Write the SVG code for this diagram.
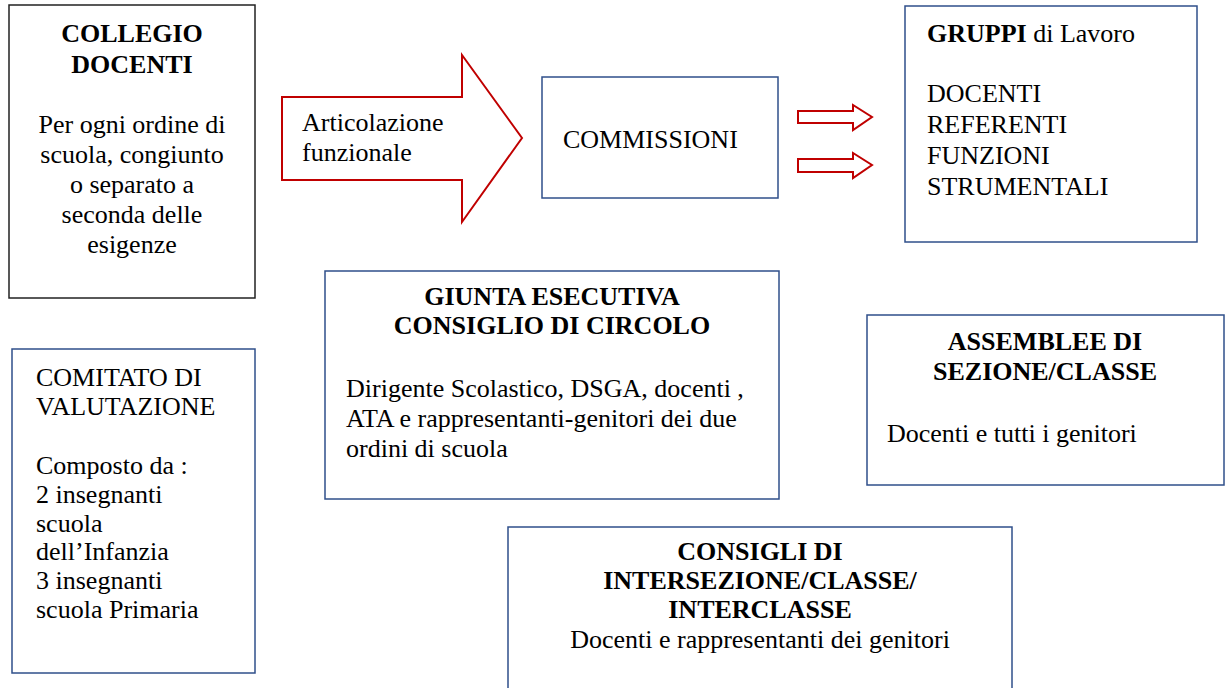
<svg xmlns="http://www.w3.org/2000/svg" width="1232" height="688" viewBox="0 0 1232 688">
<style>
  .box { fill: #ffffff; stroke: #2f4f8a; stroke-width: 1.5; }
  .boxk { fill: #ffffff; stroke: #222222; stroke-width: 1.5; }
  .arrow { fill: #ffffff; stroke: #c00000; stroke-width: 2; stroke-linejoin: miter; }
  .b { font-weight: bold; }
  .c { text-anchor: middle; }
</style>
<rect width="1232" height="688" fill="#ffffff"/>
<g font-family="'Liberation Serif', 'Times New Roman', serif" font-size="26" fill="#000000">
<g id="connectors">
  <polygon class="arrow" points="282,97 462,97 462,55 522,138 462,222 462,180 282,180"/>
  <polygon class="arrow" points="798,111 853,111 853,105 872,117 853,130 853,123 798,123"/>
  <polygon class="arrow" points="798,159 853,159 853,153 872,165 853,178 853,172 798,172"/>
  <text x="302" y="131">Articolazione</text>
  <text x="302" y="161">funzionale</text>
</g>
<g id="collegio">
  <rect class="boxk" x="9" y="5" width="246" height="293"/>
  <text class="b c" x="132" y="42">COLLEGIO</text>
  <text class="b c" x="132" y="73">DOCENTI</text>
  <text class="c" x="132" y="133">Per ogni ordine di</text>
  <text class="c" x="132" y="163">scuola, congiunto</text>
  <text class="c" x="132" y="193">o separato a</text>
  <text class="c" x="132" y="223">seconda delle</text>
  <text class="c" x="132" y="253">esigenze</text>
</g>
<g id="commissioni">
  <rect class="box" x="542" y="77" width="236" height="121"/>
  <text x="563" y="148">COMMISSIONI</text>
</g>
<g id="gruppi">
  <rect class="box" x="905" y="6" width="292" height="236"/>
  <text x="927" y="42"><tspan class="b">GRUPPI</tspan> di Lavoro</text>
  <text x="927" y="102">DOCENTI</text>
  <text x="927" y="133">REFERENTI</text>
  <text x="927" y="164">FUNZIONI</text>
  <text x="927" y="195">STRUMENTALI</text>
</g>
<g id="giunta">
  <rect class="box" x="325" y="271" width="454" height="228"/>
  <text class="b c" x="552" y="305">GIUNTA ESECUTIVA</text>
  <text class="b c" x="552" y="334">CONSIGLIO DI CIRCOLO</text>
  <text x="346" y="397">Dirigente Scolastico, DSGA, docenti ,</text>
  <text x="346" y="427">ATA e rappresentanti-genitori dei due</text>
  <text x="346" y="457">ordini di scuola</text>
</g>
<g id="comitato">
  <rect class="box" x="12" y="349" width="243" height="324"/>
  <text x="36" y="386">COMITATO DI</text>
  <text x="36" y="415">VALUTAZIONE</text>
  <text x="36" y="474">Composto da :</text>
  <text x="36" y="503">2 insegnanti</text>
  <text x="36" y="532">scuola</text>
  <text x="36" y="560">dell’Infanzia</text>
  <text x="36" y="589">3 insegnanti</text>
  <text x="36" y="618">scuola Primaria</text>
</g>
<g id="assemblee">
  <rect class="box" x="867" y="315" width="357" height="170"/>
  <text class="b c" x="1045" y="350">ASSEMBLEE DI</text>
  <text class="b c" x="1045" y="380">SEZIONE/CLASSE</text>
  <text x="887" y="442">Docenti e tutti i genitori</text>
</g>
<g id="consigli">
  <rect class="box" x="508" y="527" width="504" height="180"/>
  <text class="b c" x="760" y="560">CONSIGLI DI</text>
  <text class="b c" x="760" y="589">INTERSEZIONE/CLASSE/</text>
  <text class="b c" x="760" y="618">INTERCLASSE</text>
  <text class="c" x="760" y="648">Docenti e rappresentanti dei genitori</text>
</g>
</g>
</svg>
